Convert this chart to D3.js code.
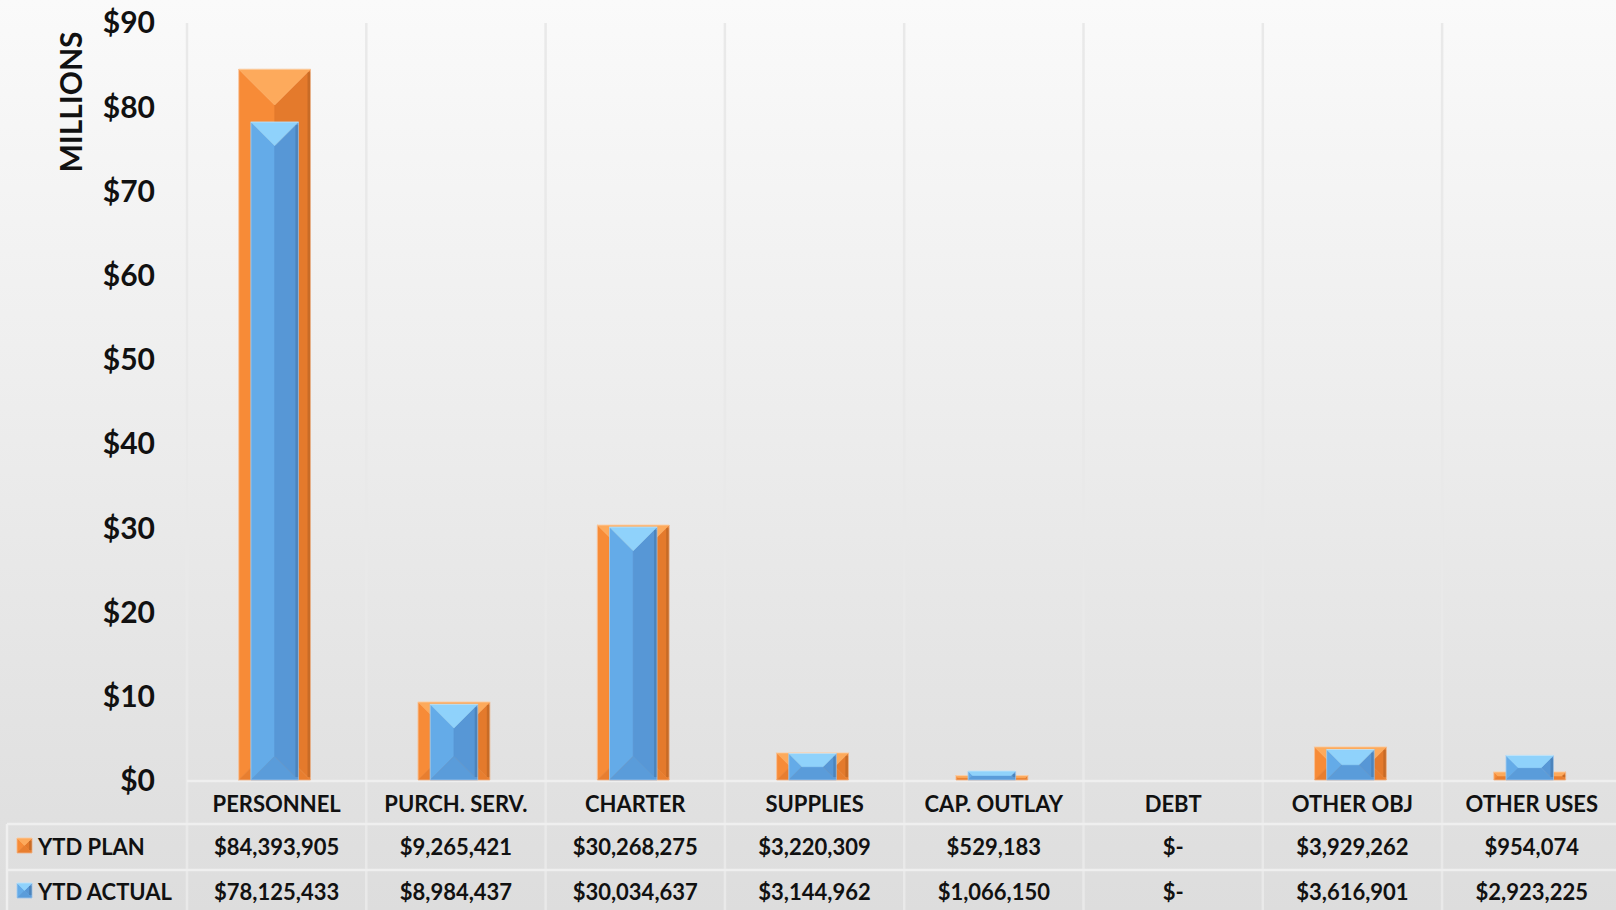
<!DOCTYPE html>
<html>

<head>
    <meta charset="utf-8">
    <style>
        html, body {
            margin: 0;
            padding: 0;
            overflow: hidden;
        }

        svg {
            display: block;
            font-family: Lato, 'Open Sans', sans-serif;
            font-weight: bold;
        }
    </style>
</head>

<body>
    <svg width="1616" height="910"></svg>
</body>

<script src="https://d3js.org/d3.v7.min.js"></script>

<script>
    // values (dollars)
    let categories = ["PERSONNEL", "PURCH. SERV.", "CHARTER", "SUPPLIES", "CAP. OUTLAY", "DEBT", "OTHER OBJ", "OTHER USES"]
    let ytdPlan = [84393905, 9265421, 30268275, 3220309, 529183, 0, 3929262, 954074]
    let ytdActual = [78125433, 8984437, 30034637, 3144962, 1066150, 0, 3616901, 2923225]
    let seriesNames = ["YTD PLAN", "YTD ACTUAL"]
    let yTicks = [0, 10, 20, 30, 40, 50, 60, 70, 80, 90]

    let width = 1616
    let height = 910
    let svg = d3.select("svg")

    let plotLeft = 187
    let colW = 179.3
    let baseY = 780
    let topY = 22

    let x = d3.scaleBand()
        .domain(categories)
        .range([plotLeft, plotLeft + colW * categories.length])
        .padding(0)
    let y = d3.scaleLinear()
        .domain([0, 90])
        .range([baseY, topY])

    // faces for the bevelled bars
    let orange = { top: "#fdaa5c", left: "#f78b37", mid: "#f18433", right: "#e47a2c", bottom: "#e87e2f" }
    let blue = { top: "#8fd2fb", left: "#64abe8", mid: "#5fa5e2", right: "#5797d6", bottom: "#5a9cda" }

    // background
    let defs = svg.append("defs")
    let bg = defs.append("linearGradient")
        .attr("id", "bg")
        .attr("x1", 0).attr("y1", 0).attr("x2", 0).attr("y2", 1)
    bg.append("stop").attr("offset", "0%").attr("stop-color", "#fafafa")
    bg.append("stop").attr("offset", "100%").attr("stop-color", "#dddddd")

    svg.append("rect")
        .attr("width", width)
        .attr("height", height)
        .attr("fill", "url(#bg)")

    // vertical grid lines, through the plot and the table
    svg.append("g")
        .attr("class", "grid")
        .selectAll("line")
        .data(categories)
        .join("line")
        .attr("x1", d => x(d))
        .attr("x2", d => x(d))
        .attr("y1", topY + 1)
        .attr("y2", height)
        .attr("stroke", "#e9e9e9")
        .attr("stroke-width", 2.5)

    // table lines
    let rowTop = [baseY + 1, 824, 870]
    svg.append("g")
        .attr("class", "table-lines")
        .selectAll("line")
        .data(rowTop)
        .join("line")
        .attr("x1", (d, i) => i == 0 ? plotLeft : 7)
        .attr("x2", width)
        .attr("y1", d => d)
        .attr("y2", d => d)
        .attr("stroke", "#efefef")
        .attr("stroke-width", 2.5)

    svg.append("line")
        .attr("x1", 7).attr("x2", 7)
        .attr("y1", 824).attr("y2", height)
        .attr("stroke", "#efefef")
        .attr("stroke-width", 2.5)

    function bevel(g, bx, by, w, h, c) {
        if (h <= 0) return
        let b = Math.min(w / 2, h / 2)
        let TL = [bx, by], TR = [bx + w, by], BR = [bx + w, by + h], BL = [bx, by + h]
        let iTL = [bx + b, by + b], iTR = [bx + w - b, by + b]
        let iBR = [bx + w - b, by + h - b], iBL = [bx + b, by + h - b]
        let faces = [
            { pts: [iTL, iTR, iBR, iBL], fill: c.mid },
            { pts: [TL, iTL, iBL, BL], fill: c.left },
            { pts: [TR, BR, iBR, iTR], fill: c.right },
            { pts: [BL, iBL, iBR, BR], fill: c.bottom },
            { pts: [TL, TR, iTR, iTL], fill: c.top }
        ]
        g.selectAll(null)
            .data(faces)
            .join("polygon")
            .attr("points", d => d.pts.map(p => p.join(",")).join(" "))
            .attr("fill", d => d.fill)
            .attr("stroke", d => d.fill)
            .attr("stroke-width", 0.6)
        // darker rim on the right, light rim round the bar
        g.append("rect")
            .attr("x", bx + w - 3).attr("y", by + Math.min(b, 3))
            .attr("width", 3).attr("height", Math.max(0, h - Math.min(b, 3) * 2))
            .attr("fill", "#000").attr("opacity", 0.12)
        g.append("rect")
            .attr("x", bx).attr("y", by)
            .attr("width", w).attr("height", h)
            .attr("fill", "none")
            .attr("stroke", "#ffffff")
            .attr("stroke-opacity", 0.35)
            .attr("stroke-width", 1)
    }

    let bars = svg.append("g").attr("class", "bars")
    let planW = x.bandwidth() * 0.4
    let actualW = x.bandwidth() * 0.265

    categories.forEach((cat, i) => {
        let cx = x(cat) + x.bandwidth() / 2 - 2
        let vp = ytdPlan[i] / 1e6
        let va = ytdActual[i] / 1e6
        bevel(bars.append("g"), cx - planW / 2, y(vp), planW, y(0) - y(vp), orange)
        bevel(bars.append("g"), cx - actualW / 2, y(va), actualW, y(0) - y(va), blue)
    })

    // y axis
    let yAxis = d3.axisLeft(y)
        .tickValues(yTicks)
        .tickSize(0)
        .tickPadding(0)
        .tickFormat(d => "$" + d)

    let yg = svg.append("g")
        .attr("transform", "translate(155,0)")
        .call(yAxis)
    yg.select(".domain").remove()
    yg.selectAll("text")
        .attr("font-family", "Lato, sans-serif")
        .attr("font-weight", "bold")
        .attr("font-size", 30)
        .attr("fill", "#111")
        .attr("dy", "0.36em")

    svg.append("text")
        .attr("transform", "translate(70,102) rotate(-90)")
        .attr("text-anchor", "middle")
        .attr("dominant-baseline", "central")
        .attr("font-size", 30)
        .attr("fill", "#111")
        .text("MILLIONS")

    // category row of the data table
    svg.append("g")
        .attr("class", "cats")
        .selectAll("text")
        .data(categories)
        .join("text")
        .attr("x", d => x(d) + x.bandwidth() / 2)
        .attr("y", 803)
        .attr("text-anchor", "middle")
        .attr("dominant-baseline", "central")
        .attr("font-size", 22)
        .attr("fill", "#111")
        .text(d => d)

    let money = v => v == 0 ? "$-" : "$" + d3.format(",")(v)
    let rows = [ytdPlan, ytdActual]
    let rowMid = [846, 891]
    let swatch = [orange, blue]

    rows.forEach((vals, r) => {
        let rg = svg.append("g").attr("class", "row")
        rg.selectAll("text")
            .data(vals)
            .join("text")
            .attr("x", (d, i) => x(categories[i]) + x.bandwidth() / 2)
            .attr("y", rowMid[r])
            .attr("text-anchor", "middle")
            .attr("dominant-baseline", "central")
            .attr("font-size", 22)
            .attr("fill", "#111")
            .text(d => money(d))

        bevel(rg.append("g"), 17, rowMid[r] - 8, 15, 15, swatch[r])

        rg.append("text")
            .attr("x", 38)
            .attr("y", rowMid[r])
            .attr("dominant-baseline", "central")
            .attr("font-size", 22)
            .attr("fill", "#111")
            .text(seriesNames[r])
    })
</script>

</html>
